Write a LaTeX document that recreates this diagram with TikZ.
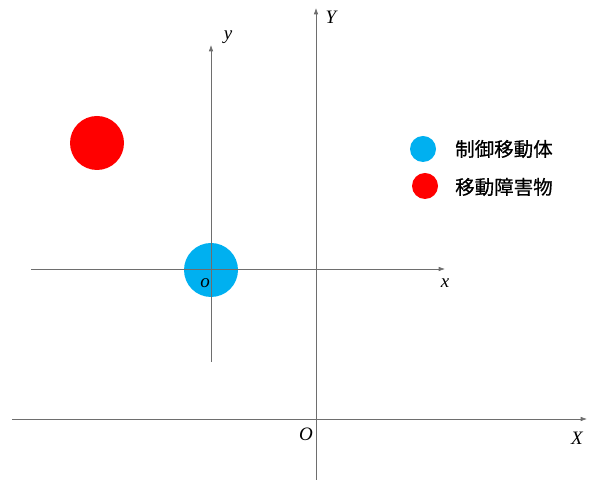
\documentclass[tikz,border=0pt]{standalone}
\usepackage{fontspec}
\usepackage{tikz}
\usetikzlibrary{positioning,arrows.meta,calc}
\newfontfamily\cjk[FakeBold=0.5]{Noto Sans CJK JP}
\newfontfamily\lblfont{Liberation Serif}
\definecolor{ctrlblue}{RGB}{0,176,240}
\definecolor{obsred}{RGB}{255,0,0}
\definecolor{axisgray}{RGB}{110,110,110}
\tikzset{
  axis/.style={draw=axisgray,line width=0.7pt,-{Latex[length=2.2mm,width=1.6mm]}},
  lbl/.style={font=\lblfont\itshape\fontsize{19}{21}\selectfont,inner sep=1pt},
  body/.style={circle,inner sep=0pt,minimum size=54pt},
  legdot/.style={circle,inner sep=0pt,minimum size=26pt},
  legtext/.style={font=\cjk\fontsize{19.5}{22}\selectfont,anchor=west,inner sep=0pt},
}

\begin{document}
\begin{tikzpicture}[x=1pt,y=1pt]
  \useasboundingbox (0,0) rectangle (591,481);
  % world frame
  \coordinate (Xs) at (12,62); \coordinate (Xe) at (587,62);
  \coordinate (Ys) at (316,1); \coordinate (Ye) at (316,473);
  \draw[axis] (Xs)--(Xe);
  \draw[axis] (Ys)--(Ye);
  \node[lbl] (XL) at (577,43) {X};
  \node[lbl] (YL) at (331,464) {Y};
  \node[lbl] (OL) at (306,47) {O};
  % robot
  \node[body,fill=ctrlblue] (rob) at (211,211) {};
  \node[body,fill=obsred] (obs) at (97,338) {};
  % local frame
  \coordinate (xs) at (31,212); \coordinate (xe) at (445,212);
  \coordinate (ys) at (211,119); \coordinate (ye) at (211,436);
  \draw[axis] (xs)--(xe);
  \draw[axis] (ys)--(ye);
  \node[lbl] (xl) at (445,198) {x};
  \node[lbl] (yl) at (228,444) {y};
  \node[lbl] (ol) at (205,198) {o};
  % legend
  \node[legdot,fill=ctrlblue] (m1) at (423,332) {};
  \node[legdot,fill=obsred] (m2) at (425,295) {};
  \node[legtext] (t1) at (455,332) {制御移動体};
  \node[legtext] (t2) at (455,294) {移動障害物};
\end{tikzpicture}
\end{document}
